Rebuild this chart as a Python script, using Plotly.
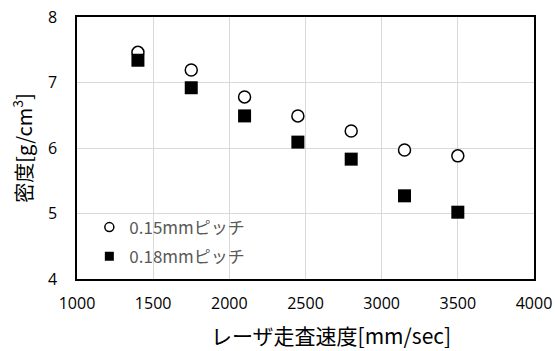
import plotly.graph_objects as go

speed = [1400, 1750, 2100, 2450, 2800, 3150, 3500]
density_015 = [7.46, 7.19, 6.78, 6.49, 6.26, 5.97, 5.88]
density_018 = [7.34, 6.92, 6.49, 6.09, 5.83, 5.27, 5.02]
series_names = ["0.15mmピッチ", "0.18mmピッチ"]
x_title = "レーザ走査速度[mm/sec]"
y_title = "密度[g/cm<sup>3</sup>]"

font_jp = "Noto Sans CJK JP, sans-serif"
font_num = "Open Sans, sans-serif"

circle_marker = dict(symbol="circle", color="white", line=dict(color="black", width=1.5))
square_marker = dict(symbol="square", color="black", line=dict(color="black", width=0))

fig = go.Figure()
fig.add_trace(go.Scatter(
    x=speed, y=density_015, mode="markers", name=series_names[0], showlegend=False,
    marker=dict(size=12, **circle_marker),
))
fig.add_trace(go.Scatter(
    x=speed, y=density_018, mode="markers", name=series_names[1], showlegend=False,
    marker=dict(size=13, **square_marker),
))
# legend entries with smaller symbols, as in the reference
fig.add_trace(go.Scatter(
    x=[None], y=[None], mode="markers", name=series_names[0], legendgroup="a",
    marker=dict(size=9, **circle_marker),
))
fig.add_trace(go.Scatter(
    x=[None], y=[None], mode="markers", name=series_names[1], legendgroup="b",
    marker=dict(size=9, **square_marker),
))

fig.update_layout(
    width=555, height=351,
    margin=dict(l=77, r=21, t=17, b=72),
    plot_bgcolor="white", paper_bgcolor="white",
    font=dict(family=font_jp, color="black", size=16),
    showlegend=True,
    legend=dict(x=0.027, y=0.265, xanchor="left", yanchor="top",
                bgcolor="rgba(0,0,0,0)", font=dict(size=17, color="#595959", family=font_jp),
                itemwidth=30, traceorder="grouped", tracegroupgap=4),
    xaxis=dict(range=[1000, 4000], tickvals=[1000, 1500, 2000, 2500, 3000, 3500, 4000],
               showgrid=True, gridcolor="#d9d9d9", gridwidth=1,
               showline=True, linecolor="black", linewidth=1.5, mirror=True,
               ticks="outside", ticklen=9, tickcolor="rgba(0,0,0,0)",
               tickfont=dict(family=font_num, size=16), zeroline=False, automargin=False),
    yaxis=dict(range=[4, 8], tickvals=[4, 5, 6, 7, 8],
               showgrid=True, gridcolor="#d9d9d9", gridwidth=1,
               showline=True, linecolor="black", linewidth=1.5, mirror=True,
               ticks="outside", ticklen=15, tickcolor="rgba(0,0,0,0)",
               tickfont=dict(family=font_num, size=16), zeroline=False, automargin=False,
               title=dict(text=y_title, font=dict(size=20, family=font_jp), standoff=10)),
    annotations=[dict(text=x_title, xref="paper", yref="paper", x=0.556, y=0,
                      xanchor="center", yanchor="middle", yshift=-56, showarrow=False,
                      font=dict(size=21, family=font_jp, color="black"))],
)

fig.write_html("out.html", config={"displayModeBar": False},
               post_script="document.body.style.margin='0';")
